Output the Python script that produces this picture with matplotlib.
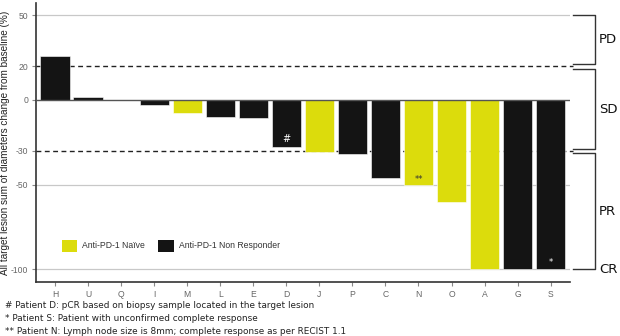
import numpy as np
import matplotlib
matplotlib.use("Agg")
from matplotlib import pyplot as plt
from matplotlib.patches import Patch

# patients ordered by best change
patients = ['H', 'U', 'Q', 'I', 'M', 'L', 'E', 'D', 'J', 'P', 'C', 'N', 'O', 'A', 'G', 'S']
change = [26, 1.6, 0, -2.8, -7.5, -10, -10.4, -27.8, -30.5, -32, -46, -50, -60, -100, -100, -100]
group = ['NR', 'NR', 'NR', 'NR', 'Naive', 'NR', 'NR', 'NR', 'Naive', 'NR', 'NR',
         'Naive', 'Naive', 'Naive', 'NR', 'NR']
marks = {'D': '#', 'N': '**', 'S': '*'}

yticks = [50, 20, 0, -30, -50, -100]
zones = [('PD', 50, 21), ('SD', 18.3, -29), ('PR', -31.3, -100)]

footnotes = ['# Patient D: pCR based on biopsy sample located in the target lesion',
             '* Patient S: Patient with unconfirmed complete response',
             '** Patient N: Lymph node size is 8mm; complete response as per RECIST 1.1']

yellow = '#dcdc0c'
black = '#141414'
colors = [yellow if g == 'Naive' else black for g in group]

fig = plt.figure(figsize=(6.2, 3.36), dpi=100)
ax = fig.add_axes([0.058, 0.161, 0.861, 0.830])

x = np.arange(len(patients))
ax.bar(x, change, width=0.89, color=colors, edgecolor='white', linewidth=0.4, zorder=3)

ax.set_xlim(-0.58, len(patients) - 0.42)
ax.set_ylim(-107.5, 57.3)

# grid lines
for g in [50, -50, -100]:
    ax.axhline(g, color='#c8c8c8', lw=0.9, zorder=1)
ax.axhline(0, color='#555555', lw=1.0, zorder=4)
for d in [20, -30]:
    ax.plot([0, 1.006], [d, d], transform=ax.get_yaxis_transform(), color='#222222',
            lw=1.0, ls=(0, (3.5, 2.5)), clip_on=False, zorder=2)

# annotations inside bars
for i, p in enumerate(patients):
    if p in marks:
        v = change[i]
        if p == 'D':
            ax.text(i, v + 5, marks[p], ha='center', va='center', color='white', fontsize=7)
        elif p == 'N':
            ax.text(i, v + 3, marks[p], ha='center', va='center', color='#333333', fontsize=6)
        else:
            ax.text(i, v + 4, marks[p], ha='center', va='center', color='white', fontsize=6)

# response zone brackets
tr = ax.get_yaxis_transform()
for name, top, bot in zones:
    ax.plot([1.006, 1.047, 1.047, 1.006], [top, top, bot, bot], transform=tr,
            color='#333333', lw=1.0, clip_on=False)
    ax.text(1.055, (top + bot) / 2, name, transform=tr, fontsize=9.5, va='center',
            ha='left', color='#111111')
ax.text(1.055, -100, 'CR', transform=tr, fontsize=9.5, va='center', ha='left', color='#111111')

# axes styling
for s in ['top', 'right']:
    ax.spines[s].set_visible(False)
for s in ['left', 'bottom']:
    ax.spines[s].set_color('#333333')
    ax.spines[s].set_linewidth(1.2)
ax.set_yticks(yticks)
ax.set_yticklabels([str(t) for t in yticks])
ax.set_xticks(x)
ax.set_xticklabels(patients)
ax.tick_params(axis='both', colors='#888888', labelsize=6.2, length=3, width=0.8,
               labelcolor='#666666', pad=2.5)
for lab in ax.get_xticklabels() + ax.get_yticklabels():
    lab.set_family('Liberation Sans')

ax.set_ylabel('All target lesion sum of diameters change from baseline (%)',
              fontsize=7.2, family='Liberation Sans', color='#222222')
ax.yaxis.set_label_coords(-0.048, 0.5)

handles = [Patch(facecolor=yellow, label='Anti-PD-1 Naïve'),
           Patch(facecolor=black, label='Anti-PD-1 Non Responder')]
leg = ax.legend(handles=handles, loc='center left', bbox_to_anchor=(0.04, 0.13),
                ncol=2, frameon=False, handlelength=1.8, handleheight=1.8,
                handletextpad=0.6, columnspacing=1.5, borderpad=0,
                prop={'family': 'Liberation Sans', 'size': 6.2})
for t in leg.get_texts():
    t.set_color('#333333')

for k, note in enumerate(footnotes):
    fig.text(0.008, 1 - (306 + 12.5 * k) / 336, note, fontsize=6.4, va='center',
             ha='left', family='DejaVu Sans', color='#222222')

fig.savefig('out.png', dpi=100)
